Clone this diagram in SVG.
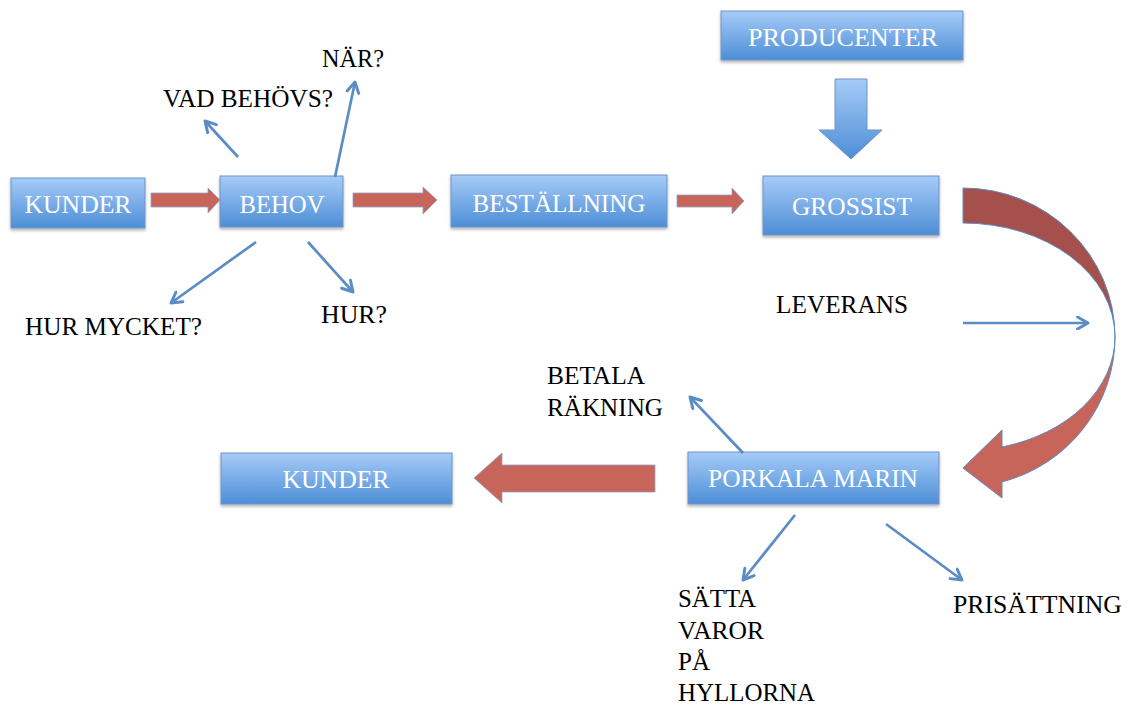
<svg xmlns="http://www.w3.org/2000/svg" width="1128" height="705" viewBox="0 0 1128 705">
<defs>
<linearGradient id="gb" x1="0" y1="0" x2="0" y2="1">
<stop offset="0" stop-color="#A6CBF8"/>
<stop offset="1" stop-color="#4D8ED6"/>
</linearGradient>
<filter id="sh" x="-10%" y="-20%" width="120%" height="150%">
<feDropShadow dx="0" dy="2" stdDeviation="1.5" flood-color="#000" flood-opacity="0.3"/>
</filter>
<marker id="ah" viewBox="0 0 10 10" refX="8" refY="5" markerWidth="5.5" markerHeight="5.5" orient="auto" markerUnits="strokeWidth">
<path d="M1,1 L8,5 L1,9" fill="none" stroke="#5B8CC4" stroke-width="2" stroke-linecap="round" stroke-linejoin="round"/>
</marker>
</defs>
<style>
.box{fill:url(#gb);stroke:#6E94C6;stroke-width:1;filter:url(#sh)}
.bt{font-family:"Liberation Serif","Times New Roman",serif;font-size:25px;fill:#fff;text-anchor:middle}
.t{font-family:"Liberation Serif","Times New Roman",serif;font-size:25px;fill:#000}
.ln{stroke:#5B8CC4;stroke-width:2.7;fill:none;marker-end:url(#ah)}
.ra{fill:#C8655A;stroke:#8AA3C8;stroke-width:0.8}
.ba{fill:url(#gb);stroke:#6E94C6;stroke-width:1}
</style>

<g id="kunder1"><rect class="box" x="11" y="178" width="134" height="50"/><text class="bt" x="78" y="213" textLength="107" lengthAdjust="spacingAndGlyphs">KUNDER</text></g>
<g id="behov"><rect class="box" x="220" y="176" width="123" height="51"/><text class="bt" x="282" y="213" textLength="85" lengthAdjust="spacingAndGlyphs">BEHOV</text></g>
<g id="bestallning"><rect class="box" x="451" y="175" width="216" height="52"/><text class="bt" x="559" y="212" textLength="173" lengthAdjust="spacingAndGlyphs">BESTÄLLNING</text></g>
<g id="grossist"><rect class="box" x="763" y="176" width="176" height="59"/><text class="bt" x="852" y="215" textLength="120" lengthAdjust="spacingAndGlyphs">GROSSIST</text></g>
<g id="producenter"><rect class="box" x="721" y="11" width="242" height="49"/><text class="bt" x="843" y="46" textLength="190" lengthAdjust="spacingAndGlyphs">PRODUCENTER</text></g>
<g id="kunder2"><rect class="box" x="221" y="453" width="231" height="51"/><text class="bt" x="336" y="488" textLength="107" lengthAdjust="spacingAndGlyphs">KUNDER</text></g>
<g id="porkala"><rect class="box" x="688" y="452" width="251" height="52"/><text class="bt" x="813" y="487" textLength="210" lengthAdjust="spacingAndGlyphs">PORKALA MARIN</text></g>

<g id="labels">
<text class="t" x="322" y="67" textLength="62" lengthAdjust="spacingAndGlyphs">NÄR?</text>
<text class="t" x="163" y="107" textLength="170" lengthAdjust="spacingAndGlyphs">VAD BEHÖVS?</text>
<text class="t" x="25" y="335" textLength="177" lengthAdjust="spacingAndGlyphs">HUR MYCKET?</text>
<text class="t" x="321" y="323" textLength="66" lengthAdjust="spacingAndGlyphs">HUR?</text>
<text class="t" x="776" y="313" textLength="132" lengthAdjust="spacingAndGlyphs">LEVERANS</text>
<text class="t" x="547" y="384" textLength="98" lengthAdjust="spacingAndGlyphs">BETALA</text>
<text class="t" x="547" y="416" textLength="116" lengthAdjust="spacingAndGlyphs">RÄKNING</text>
<text class="t" x="678" y="607" textLength="78" lengthAdjust="spacingAndGlyphs">SÄTTA</text>
<text class="t" x="678" y="639" textLength="86" lengthAdjust="spacingAndGlyphs">VAROR</text>
<text class="t" x="678" y="670">PÅ</text>
<text class="t" x="678" y="701" textLength="137" lengthAdjust="spacingAndGlyphs">HYLLORNA</text>
<text class="t" x="953" y="613" textLength="169" lengthAdjust="spacingAndGlyphs">PRISÄTTNING</text>
</g>

<g id="connectors">
<path class="ra" d="M151,193 L208,193 L208,188 L220,200 L208,213 L208,207 L151,207 Z"/>
<path class="ra" d="M353,193 L423,193 L423,187 L437,200 L423,214 L423,207 L353,207 Z"/>
<path class="ra" d="M677,195 L732,195 L732,188 L744,201 L732,214 L732,207 L677,207 Z"/>
<path class="ra" d="M655,465 L502,465 L502,453 L474,478 L502,503 L502,492 L655,492 Z"/>
<path class="ba" d="M835,79 L867,79 L867,130 L882,130 L851,159 L819,130 L835,130 Z"/>
<path d="M963,188 A152,149 0 0 1 1115,337 A152,114 0 0 0 963,223 Z" fill="#A5504C" stroke="#5B8CC4" stroke-width="1"/>
<path d="M1115,337 A152,150 0 0 1 1002,482 L1002,498 L963,468 L1002,430 L1002,447 A152,114 0 0 0 1115,337 Z" fill="#C8655A" stroke="#5B8CC4" stroke-width="1"/>
<line class="ln" x1="963" y1="323" x2="1088" y2="323"/>
<line class="ln" x1="238" y1="157" x2="205" y2="121"/>
<line class="ln" x1="335" y1="177" x2="355" y2="82"/>
<line class="ln" x1="256" y1="242" x2="171" y2="303"/>
<line class="ln" x1="308" y1="242" x2="353" y2="292"/>
<line class="ln" x1="743" y1="453" x2="690" y2="397"/>
<line class="ln" x1="795" y1="515" x2="743" y2="580"/>
<line class="ln" x1="886" y1="524" x2="962" y2="580"/>
</g>
</svg>
